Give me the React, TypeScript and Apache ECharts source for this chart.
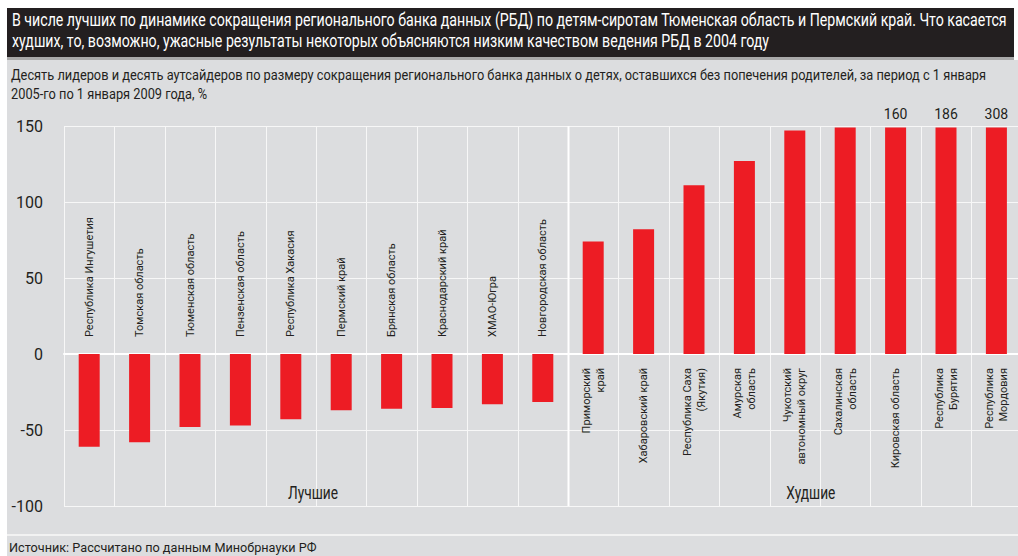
import React, { useEffect, useRef } from "react";
import * as echarts from "echarts";

const titleLines = [
  "В числе лучших по динамике сокращения регионального банка данных (РБД) по детям-сиротам Тюменская область и Пермский край. Что касается",
  "худших, то, возможно, ужасные результаты некоторых объясняются низким качеством ведения РБД в 2004 году",
];
const subtitleLines = [
  "Десять лидеров и десять аутсайдеров по размеру сокращения регионального банка данных о детях, оставшихся без попечения родителей, за период с 1 января",
  "2005-го по 1 января 2009 года, %",
];
const sourceText = "Источник: Рассчитано по данным Минобрнауки РФ";

const bestCategories = [
  "Республика Ингушетия",
  "Томская область",
  "Тюменская область",
  "Пензенская область",
  "Республика Хакасия",
  "Пермский край",
  "Брянская область",
  "Краснодарский край",
  "ХМАО-Югра",
  "Новгородская область",
];
const bestValues = [-61, -58, -48, -47, -43, -37, -36, -35.5, -33, -31.5];

const worstCategories = [
  "Приморский\nкрай",
  "Хабаровский край",
  "Республика Саха\n(Якутия)",
  "Амурская\nобласть",
  "Чукотский\nавтономный округ",
  "Сахалинская\nобласть",
  "Кировская область",
  "Республика\nБурятия",
  "Республика\nМордовия",
];
const worstValues = [74, 82, 111, 127, 147, 149, 160, 186, 308];

const groupNames = ["Лучшие", "Худшие"];
const yTicks = { min: -100, max: 150, interval: 50 };
const displayCap = 149;

const FONT = "Roboto, 'DejaVu Sans', sans-serif";
const DARK = "#231f20";
const RED = "#ed1c24";
const GRIDLINE = "#f7f7f7";

function measure(text: string, font: string): number {
  const cv = document.createElement("canvas");
  const ctx = cv.getContext("2d");
  if (!ctx) return text.length * 7;
  ctx.font = font;
  return ctx.measureText(text).width;
}

export default function App() {
  const ref = useRef<HTMLDivElement>(null);
  useEffect(() => {
    if (!ref.current) return;
    const chart = echarts.init(ref.current, undefined, { renderer: "svg" });
    const categories = [...bestCategories, ...worstCategories];
    const values = [...bestValues, ...worstValues];
    const nBest = bestCategories.length;
    const data = values.map((v) =>
      v > displayCap
        ? { value: displayCap, label: { show: true, formatter: String(v) } }
        : { value: v }
    );
    const gridLeft = 64;
    const gridTop = 126;
    const gridHeight = 380;
    const colW = 50.4;
    const gridWidth = colW * categories.length;
    const zeroOffset = (gridHeight * (0 - yTicks.min)) / (yTicks.max - yTicks.min);

    const titleFont = `18px ${FONT}`;
    const titleScale = 996 / measure(titleLines[0], titleFont);
    const subFont = `15px ${FONT}`;
    const subScale = 975 / measure(subtitleLines[0], subFont);
    const srcFont = `13px ${FONT}`;
    const srcScale = 308 / measure(sourceText, srcFont);
    const catFontSize = (13 * 120) / measure(bestCategories[0], `13px ${FONT}`);
    const groupFont = `18px ${FONT}`;
    const groupScale = 50 / measure(groupNames[0], groupFont);

    const catLabel = {
      rotate: 90,
      interval: 0,
      fontFamily: FONT,
      fontSize: catFontSize,
      lineHeight: 14,
      color: DARK,
    };

    const baseGraphic: any[] = [
      { type: "rect", shape: { x: 0, y: 0, width: 7, height: 556 }, style: { fill: "#ffffff" }, silent: true },
      { type: "rect", shape: { x: 0, y: 0, width: 1018, height: 8 }, style: { fill: "#ffffff" }, silent: true },
      { type: "rect", shape: { x: 1014, y: 0, width: 4, height: 60 }, style: { fill: "#ffffff" }, silent: true },
      { type: "rect", shape: { x: 7, y: 8, width: 1007, height: 49 }, style: { fill: "#231f20" }, silent: true },
      { type: "rect", shape: { x: 7, y: 57, width: 1007, height: 3 }, style: { fill: "#a9a9a9" }, silent: true },
      { type: "rect", shape: { x: 7, y: 534, width: 1011, height: 2 }, style: { fill: "#f2f2f2" }, silent: true },
      {
        type: "text", x: 12, y: 20, scaleX: titleScale,
        style: { text: titleLines[0], fill: "#ffffff", font: titleFont, textVerticalAlign: "middle" },
      },
      {
        type: "text", x: 12, y: 41, scaleX: titleScale,
        style: { text: titleLines[1], fill: "#ffffff", font: titleFont, textVerticalAlign: "middle" },
      },
      {
        type: "text", x: 11, y: 75, scaleX: subScale,
        style: { text: subtitleLines[0], fill: DARK, font: subFont, textVerticalAlign: "middle" },
      },
      {
        type: "text", x: 11, y: 94, scaleX: subScale,
        style: { text: subtitleLines[1], fill: DARK, font: subFont, textVerticalAlign: "middle" },
      },
      {
        type: "text", x: 9, y: 547, scaleX: srcScale,
        style: { text: sourceText, fill: DARK, font: srcFont, textVerticalAlign: "middle" },
      },
    ];

    const option: any = {
      animation: false,
      backgroundColor: "#dcdddf",
      textStyle: { fontFamily: FONT },
      grid: {
        left: gridLeft, top: gridTop, height: gridHeight, width: gridWidth,
        containLabel: false, outerBoundsMode: "none",
      },
      xAxis: [
        {
          type: "category",
          data: categories,
          position: "bottom",
          offset: -zeroOffset,
          axisLine: { onZero: false, show: true, lineStyle: { color: "#ffffff", width: 2 } },
          axisTick: { show: false, interval: 0 },
          splitLine: { show: false },
          axisLabel: {
            ...catLabel,
            margin: 14,
            align: "right",
            formatter: (v: string, i: number) => (i >= nBest ? v : ""),
          },
        },
        {
          type: "category",
          data: categories,
          position: "bottom",
          offset: -zeroOffset,
          axisLine: { onZero: false, show: false },
          axisTick: { show: false },
          splitLine: { show: false },
          axisLabel: {
            ...catLabel,
            inside: true,
            margin: 17,
            align: "left",
            formatter: (v: string, i: number) => (i < nBest ? v : ""),
          },
        },
      ],
      yAxis: {
        type: "value",
        min: yTicks.min,
        max: yTicks.max,
        interval: yTicks.interval,
        axisLine: { show: false },
        axisTick: { show: false },
        splitLine: { show: true, lineStyle: { color: GRIDLINE, width: 1 } },
        axisLabel: { margin: 21, fontFamily: FONT, fontSize: 16, color: DARK },
      },
      series: [
        {
          type: "bar",
          xAxisIndex: 0,
          data,
          barWidth: 21,
          itemStyle: { color: RED },
          label: {
            show: false,
            position: "top",
            distance: 7,
            fontFamily: FONT,
            fontSize: 14,
            color: DARK,
          },
        },
      ],
      graphic: baseGraphic,
    };
    chart.setOption(option);

    const c = (i: number) => chart.convertToPixel({ xAxisIndex: 0 }, categories[i]) as number;
    const yTop = chart.convertToPixel({ yAxisIndex: 0 }, yTicks.max) as number;
    const yBot = chart.convertToPixel({ yAxisIndex: 0 }, yTicks.min) as number;
    const yLab = chart.convertToPixel({ yAxisIndex: 0 }, -91) as number;
    const bestMid = (c(0) + c(nBest - 1)) / 2;
    const worstMid = (c(nBest) + c(categories.length - 1)) / 2;
    const half = (c(1) - c(0)) / 2;
    const boundaries = categories.map((_, i) => Math.round(c(i) - half) + 0.5);
    const vLines = boundaries.map((x, i) => ({
      type: "line",
      shape: { x1: x, y1: yTop, x2: x, y2: yBot },
      style: { stroke: i === nBest ? "#ffffff" : GRIDLINE, lineWidth: i === nBest ? 2 : 1 },
      silent: true,
    }));
    chart.setOption(
      {
        graphic: [
          ...baseGraphic,
          ...vLines,
          {
            type: "text", x: bestMid - 3, y: yLab, scaleX: groupScale,
            style: { text: groupNames[0], fill: DARK, font: groupFont, textAlign: "center", textVerticalAlign: "middle" },
          },
          {
            type: "text", x: worstMid + 16, y: yLab, scaleX: groupScale,
            style: { text: groupNames[1], fill: DARK, font: groupFont, textAlign: "center", textVerticalAlign: "middle" },
          },
        ],
      },
      { replaceMerge: ["graphic"] }
    );

    return () => chart.dispose();
  }, []);
  return (
    <div
      ref={ref}
      style={{ position: "fixed", left: 0, top: 0, width: 1018, height: 556 }}
    />
  );
}
